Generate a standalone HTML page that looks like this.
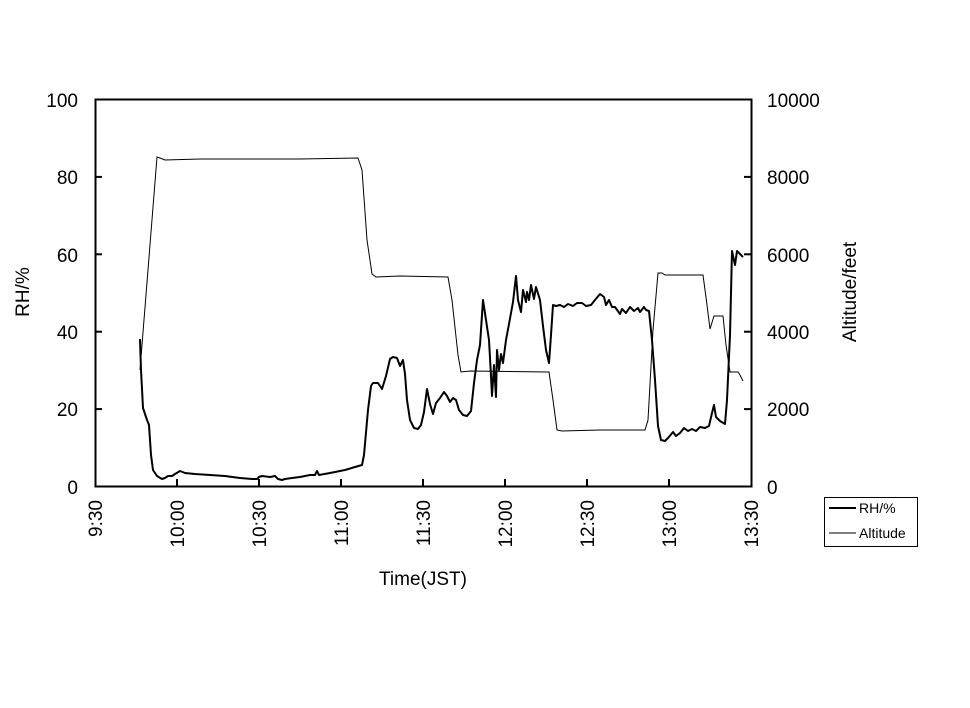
<!DOCTYPE html>
<html><head><meta charset="utf-8"><style>
body{margin:0;background:#fff}
svg text{font-family:"Liberation Sans",Arial,sans-serif;font-size:19px;fill:#000}
</style></head><body>
<svg width="970" height="703" viewBox="0 0 970 703">
<rect x="95.5" y="99.5" width="656" height="387" fill="none" stroke="#000" stroke-width="2"/>
<g stroke="#000" stroke-width="2">
<line x1="95" y1="176.9" x2="102" y2="176.9"/><line x1="95" y1="254.3" x2="102" y2="254.3"/><line x1="95" y1="331.7" x2="102" y2="331.7"/><line x1="95" y1="409.1" x2="102" y2="409.1"/>
<line x1="751" y1="176.9" x2="744" y2="176.9"/><line x1="751" y1="254.3" x2="744" y2="254.3"/><line x1="751" y1="331.7" x2="744" y2="331.7"/><line x1="751" y1="409.1" x2="744" y2="409.1"/>
<line x1="177" y1="486" x2="177" y2="479"/><line x1="259" y1="486" x2="259" y2="479"/><line x1="341" y1="486" x2="341" y2="479"/><line x1="423" y1="486" x2="423" y2="479"/><line x1="505" y1="486" x2="505" y2="479"/><line x1="587" y1="486" x2="587" y2="479"/><line x1="669" y1="486" x2="669" y2="479"/>
</g>
<g text-anchor="end">
<text x="78" y="107">100</text><text x="78" y="184">80</text><text x="78" y="262">60</text><text x="78" y="339">40</text><text x="78" y="416">20</text><text x="78" y="494">0</text>
</g>
<g>
<text x="767" y="107">10000</text><text x="767" y="184">8000</text><text x="767" y="262">6000</text><text x="767" y="339">4000</text><text x="767" y="416">2000</text><text x="767" y="494">0</text>
</g>
<g text-anchor="end">
<text transform="translate(102,500) rotate(-90)">9:30</text>
<text transform="translate(184,500) rotate(-90)">10:00</text>
<text transform="translate(266,500) rotate(-90)">10:30</text>
<text transform="translate(348,500) rotate(-90)">11:00</text>
<text transform="translate(430,500) rotate(-90)">11:30</text>
<text transform="translate(512,500) rotate(-90)">12:00</text>
<text transform="translate(594,500) rotate(-90)">12:30</text>
<text transform="translate(676,500) rotate(-90)">13:00</text>
<text transform="translate(758,500) rotate(-90)">13:30</text>
</g>
<text x="423" y="585" text-anchor="middle">Time(JST)</text>
<text transform="translate(29,292) rotate(-90)" text-anchor="middle">RH/%</text>
<text transform="translate(856,292) rotate(-90)" text-anchor="middle">Altitude/feet</text>
<polyline fill="none" stroke="#000" stroke-width="1" points="140,370 157,157 160,158 165,160 200,159 260,159 300,159 358,158 362,170 367,240 372,274 376,277 400,276 448,277 452,300 458,355 461,372 470,371 549,372 553,400 557,430 562,431 600,430 645,430 648,420 653,330 658,273 662,273 665,275 703,275 707,305 710,329 714,316 723,316 726,345 730,372 738,372 740,375 743,381"/>
<polyline fill="none" stroke="#000" stroke-width="2" stroke-linejoin="round" points="140,339 141,370 143,408 147,420 149,425 151,455 153,470 157,476 162,479 165,478 168,476 172,476 175,474 180,471 185,473 195,474 210,475 225,476 240,478 252,479 257,479 259,477 262,476 270,477 275,476 278,479 282,480 285,479 292,478 300,477 310,475 315,475 317,471 319,475 330,473 345,470 355,467 362,465 364,455 368,410 371,386 373,383 378,383 382,389 386,376 390,359 393,357 397,358 400,366 403,360 405,374 407,400 410,420 414,428 418,429 421,425 424,412 427,389 430,404 433,414 436,403 440,398 444,392 447,396 450,402 453,398 456,400 459,410 463,415 467,416 471,411 474,383 477,360 480,345 483,300 486,320 489,340 491,376 492,396 494,365 496,397 497,350 499,370 501,354 503,363 506,340 509,324 513,302 516,276 518,300 521,312 523,290 526,302 527,292 529,300 531,285 534,299 536,287 540,300 543,326 546,350 549,363 551,335 553,305 556,306 560,305 564,307 568,304 573,306 577,303 582,303 586,306 591,305 595,300 600,294 604,297 606,305 609,300 612,307 615,307 620,314 622,309 626,313 630,307 634,311 638,308 640,312 644,307 646,310 649,311 652,340 655,380 658,426 661,440 665,441 668,438 673,432 676,436 680,433 684,428 688,431 692,429 696,431 700,427 705,428 709,426 712,413 714,405 716,417 720,421 725,424 727,400 730,335 732,251 735,265 737,251 740,254 743,257"/>
<rect x="824.5" y="497.5" width="93" height="49" fill="none" stroke="#000" stroke-width="1"/>
<line x1="829" y1="508" x2="856" y2="508" stroke="#000" stroke-width="2"/>
<line x1="829" y1="533" x2="856" y2="533" stroke="#000" stroke-width="1"/>
<text x="859" y="513" style="font-size:14px">RH/%</text>
<text x="859" y="538" style="font-size:14px">Altitude</text>
</svg>
</body></html>
